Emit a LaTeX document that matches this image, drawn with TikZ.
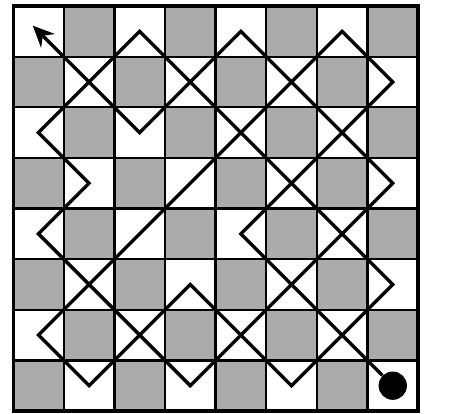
\documentclass[tikz,border=0pt]{standalone}
\usepackage{tikz}
\usetikzlibrary{arrows.meta}
\begin{document}
\begin{tikzpicture}[x=1cm,y=1cm,tour/.style={line width=1.9pt,line join=miter}]
\useasboundingbox (-0.26,-0.04) rectangle (8.71,8.12);
\foreach \c in {0,...,7} {\foreach \r in {0,...,7} {\pgfmathtruncatemacro\odd{mod(\c+\r,2)}\ifnum\odd=1 \fill[black!33] (\c,7-\r) rectangle ++(1,1);\fi
\coordinate (s\c\r) at (\c+0.5,7.5-\r);}}
\draw[line width=1.3pt] (0,0) grid (8,8);\draw[line width=1.8pt] (0,0) rectangle (8,8);
\node[circle,fill,inner sep=0pt,minimum size=5.6mm] (dot) at (s77) {};
\draw[tour,shorten >=-4.5pt,-{Stealth[length=4.2mm,width=3.8mm,inset=1.4mm]}] (dot) -- (s44) -- (s71) -- (s60) -- (s06) -- (s17) -- (s35) -- (s57) -- (s75) -- (s20) -- (s02) -- (s13) -- (s04) -- (s37) -- (s73) -- (s40) -- (s22) -- (s00);
\end{tikzpicture}
\end{document}
